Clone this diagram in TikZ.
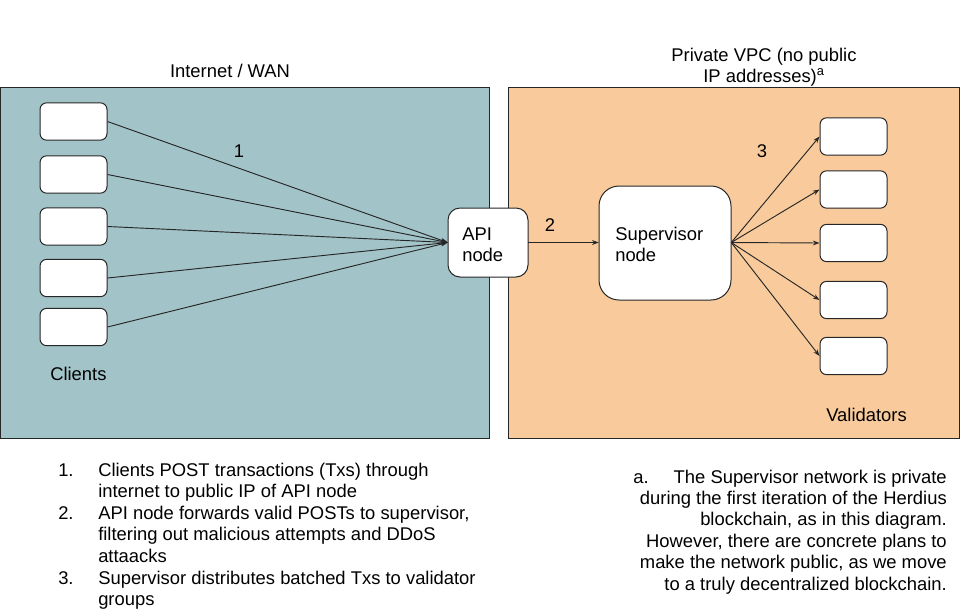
\documentclass[tikz,border=0pt]{standalone}
\usepackage{fontspec}
\setmainfont{Liberation Sans}
\usetikzlibrary{arrows.meta}
\definecolor{wanfill}{HTML}{A2C4C9}
\definecolor{vpcfill}{HTML}{F9CB9C}
\begin{document}
\begin{tikzpicture}[x=0.75pt,y=-0.75pt,
  txt/.style={inner sep=0pt,font=\fontsize{13.8}{16.2}\selectfont},
  zone/.style={draw=black!85,line width=0.75pt},
  smallbox/.style={draw=black!85,fill=white,line width=0.75pt,rounded corners=5pt,minimum width=50.25pt,minimum height=28pt,inner sep=0pt},
  conn/.style={line width=0.7pt,draw=black!85,-{Stealth[length=5pt,width=3.6pt]}}]
\useasboundingbox (0,0) rectangle (970,615);
% zones
\draw[zone,fill=wanfill] (0,87) rectangle (489,438);
\draw[zone,fill=vpcfill] (508,87) rectangle (959,438);
% titles
\node[txt,anchor=base] (twan) at (230,77) {Internet / WAN};
\node[txt,anchor=base] (tvpc1) at (764,61.5) {Private VPC (no public};
\node[txt,anchor=base] (tvpc2) at (764,82.5) {IP addresses)\textsuperscript{a}};
% clients
\node[smallbox] (c1) at (73.5,121.5) {};
\node[smallbox] (c2) at (73.5,174.5) {};
\node[smallbox] (c3) at (73.5,226.5) {};
\node[smallbox] (c4) at (73.5,278) {};
\node[smallbox] (c5) at (73.5,327) {};
\node[txt,anchor=base west] (clients) at (50,380) {Clients};
% API node
\draw[draw=black!85,fill=white,line width=0.75pt,rounded corners=9pt] (448,208) rectangle (528,277);
\node[inner sep=0pt,minimum width=60pt,minimum height=51.75pt] (api) at (488,242.5) {};
\node[txt,anchor=base west] (apit1) at (462,240) {API};
\node[txt,anchor=base west] (apit2) at (462,261) {node};
% Supervisor node
\draw[draw=black!85,fill=white,line width=0.75pt,rounded corners=15pt] (599,186) rectangle (731,300);
\node[inner sep=0pt,minimum width=99pt,minimum height=85.5pt] (sup) at (665,242.5) {};
\node[txt,anchor=base west] (supt1) at (615,240) {Supervisor};
\node[txt,anchor=base west] (supt2) at (615,261) {node};
% validators
\node[smallbox] (v1) at (853.5,136.5) {};
\node[smallbox] (v2) at (853.5,189.5) {};
\node[smallbox] (v3) at (853.5,243) {};
\node[smallbox] (v4) at (853.5,300) {};
\node[smallbox] (v5) at (853.5,356) {};
\node[txt,anchor=base west] (validators) at (826,421) {Validators};
% connectors
\foreach \c in {c1,c2,c3,c4,c5} \draw[conn] (\c.east) -- (api.west);
\draw[conn] (api.east) -- (sup.west);
\foreach \v in {v1,v2,v3,v4,v5} \draw[conn] (sup.east) -- (\v.west);
\node[txt,anchor=base] (l1) at (239,157) {1};
\node[txt,anchor=base] (l2) at (550,231) {2};
\node[txt,anchor=base] (l3) at (762,157) {3};
% left list
\node[txt,anchor=base west] (n1) at (58,476) {1.};
\node[txt,anchor=base west] (i1a) at (98,476) {Clients POST transactions (Txs) through};
\node[txt,anchor=base west] (i1b) at (98,497.6) {internet to public IP of API node};
\node[txt,anchor=base west] (n2) at (58,519.2) {2.};
\node[txt,anchor=base west] (i2a) at (98,519.2) {API node forwards valid POSTs to supervisor,};
\node[txt,anchor=base west] (i2b) at (98,540.8) {filtering out malicious attempts and DDoS};
\node[txt,anchor=base west] (i2c) at (98,562.4) {attaacks};
\node[txt,anchor=base west] (n3) at (58,584) {3.};
\node[txt,anchor=base west] (i3a) at (98,584) {Supervisor distributes batched Txs to validator};
\node[txt,anchor=base west] (i3b) at (98,605.6) {groups};
% right note
\node[txt,anchor=base west] (na) at (633,483) {a.};
\node[txt,anchor=base east] (r1) at (947,483) {The Supervisor network is private};
\node[txt,anchor=base east] (r2) at (947,504.4) {during the first iteration of the Herdius};
\node[txt,anchor=base east] (r3) at (947,525.8) {blockchain, as in this diagram.};
\node[txt,anchor=base east] (r4) at (947,547.2) {However, there are concrete plans to};
\node[txt,anchor=base east] (r5) at (947,568.6) {make the network public, as we move};
\node[txt,anchor=base east] (r6) at (947,590) {to a truly decentralized blockchain.};
\end{tikzpicture}
\end{document}
